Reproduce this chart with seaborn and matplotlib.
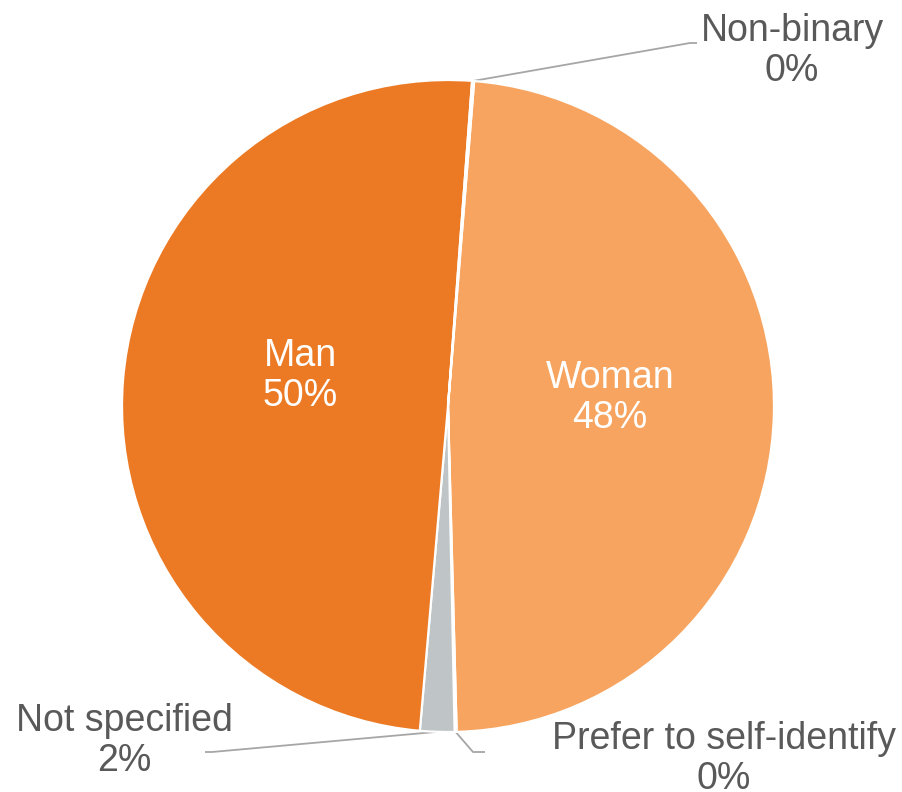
import numpy as np
import matplotlib
matplotlib.use("Agg")
import matplotlib.pyplot as plt
import seaborn as sns

# Survey responses by gender (percent of respondents), clockwise from the top
categories = ["Woman", "Prefer to self-identify", "Not specified", "Man", "Non-binary"]
shares = [48.3, 0.1, 1.7, 49.8, 0.1]
colors = ["#F6A45F", "#D9D9D9", "#BFC5C6", "#EC7A24", "#F4B183"]

sns.set_style("white")
plt.rcParams["font.family"] = ["Liberation Sans", "DejaVu Sans"]

W, H = 902, 792
fig = plt.figure(figsize=(W / 100, H / 100), dpi=100)
ax = fig.add_axes([0, 0, 1, 1])

cx, cy, r = 448, H - 406, 326
start = 85.4

wedges, _ = ax.pie(
    shares, colors=colors, center=(cx, cy), radius=r,
    startangle=start, counterclock=False,
    wedgeprops=dict(edgecolor="white", linewidth=1.6),
    frame=True,
)
ax.set_xlim(0, W)
ax.set_ylim(0, H)
ax.set_aspect("equal")
ax.axis("off")

fs = 27
txt_dark = "#595959"
line_col = "#A6A6A6"


def label(share):
    return f"{share:.0f}%"


# labels inside the two large wedges
inside = {"Man": (300, 376), "Woman": (610, 398)}
# outside labels: text centre, leader elbow, leader end (pixel coords, y down)
outside = {
    "Non-binary": ((792, 51), (690, 43), (697, 43)),
    "Prefer to self-identify": ((724, 759), (473, 752), (485, 752)),
    "Not specified": ((124, 741), (212, 752), (205, 752)),
}

for name, share, w in zip(categories, shares, wedges):
    mid = np.deg2rad((w.theta1 + w.theta2) / 2)
    text = f"{name}\n{label(share)}"
    if name in inside:
        tx, ty = inside[name]
        ax.text(tx, H - ty, text, ha="center", va="center", fontsize=fs,
                color="white", linespacing=1.15)
    else:
        (tx, ty), (ex, ey), (hx, hy) = outside[name]
        px, py = cx + r * np.cos(mid), cy + r * np.sin(mid)
        ax.plot([px, ex, hx], [py, H - ey, H - hy], color=line_col, lw=1.3,
                solid_capstyle="butt", zorder=0)
        ax.text(tx, H - ty, text, ha="center", va="center", fontsize=fs,
                color=txt_dark, linespacing=1.15)

fig.savefig("out.png", dpi=100, facecolor="white")
